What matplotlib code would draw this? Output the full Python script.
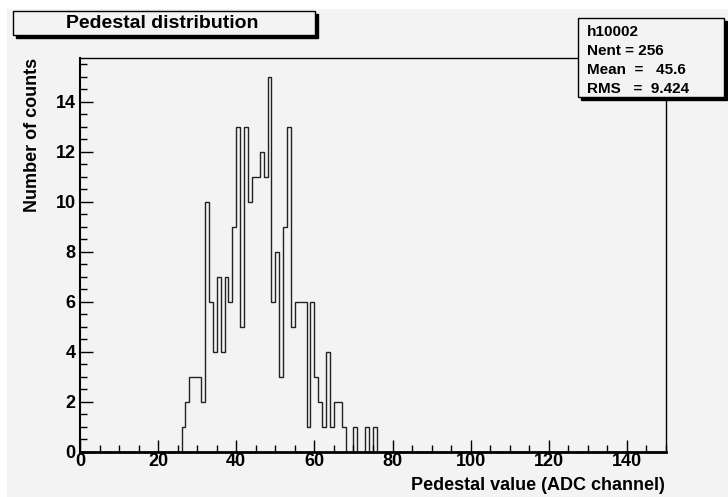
import numpy as np
import matplotlib
matplotlib.use("Agg")
import matplotlib.pyplot as plt
from matplotlib.patches import Rectangle
from matplotlib.ticker import MultipleLocator

# ---- data ----
bin_low, bin_high, n_bins = 0, 150, 150
first_filled_bin = 26
counts_from_26 = [1, 2, 3, 3, 3, 2,            # 26-31
                  10, 6, 4, 7, 4, 7, 6, 9,     # 32-39
                  13, 5, 13, 10, 11, 11, 12, 11,  # 40-47
                  15, 6, 8, 3, 9, 13, 5,       # 48-54
                  6, 6, 6, 1, 6, 3, 2, 1, 4, 1, 2, 2, 1,  # 55-67
                  0, 0, 1, 0, 0, 1, 0, 1]      # 68-75
title = "Pedestal distribution"
xlabel = "Pedestal value (ADC channel)"
ylabel = "Number of counts"
stats_lines = ["h10002", "Nent = 256", "Mean  =   45.6", "RMS   =  9.424"]

counts = np.zeros(n_bins)
counts[first_filled_bin:first_filled_bin + len(counts_from_26)] = counts_from_26
edges = np.linspace(bin_low, bin_high, n_bins + 1)

W, H = 728, 497
BG = "#f3f3f3"
plt.rcParams['font.family'] = ['Liberation Sans', 'DejaVu Sans']
plt.rcParams['font.weight'] = 'bold'

fig = plt.figure(figsize=(W / 100, H / 100), dpi=100)
fig.patch.set_facecolor("white")

def px(x0, y0, x1, y1):
    return (x0 / W, 1 - y1 / H, (x1 - x0) / W, (y1 - y0) / H)

# canvas gray pad
x, y, w, h = px(7, 9, W, H)
fig.patches.append(Rectangle((x, y), w, h, transform=fig.transFigure,
                             facecolor=BG, edgecolor="none", zorder=-10))

ax = fig.add_axes(px(80, 58, 666, 452))
ax.set_facecolor(BG)
ax.stairs(counts, edges, color="#222222", linewidth=1.0)
ax.set_xlim(bin_low, bin_high)
ax.set_ylim(0, 15.75)

ax.xaxis.set_major_locator(MultipleLocator(20))
ax.xaxis.set_minor_locator(MultipleLocator(5))
ax.yaxis.set_major_locator(MultipleLocator(2))
ax.yaxis.set_minor_locator(MultipleLocator(0.5))
ax.tick_params(which='both', direction='in', top=False, right=False, color='black')
ax.tick_params(which='major', length=9, width=1)
ax.tick_params(which='minor', length=5, width=1)
ax.tick_params(axis='x', which='major', labelsize=13, pad=1)
ax.tick_params(axis='y', which='major', labelsize=13, pad=3)
for lab in ax.get_xticklabels() + ax.get_yticklabels():
    lab.set_fontweight('bold')

ax.spines['bottom'].set_linewidth(2.0)
ax.spines['left'].set_linewidth(1.5)
ax.spines['top'].set_linewidth(1.0)
ax.spines['right'].set_linewidth(1.0)
for s in ax.spines.values():
    s.set_color('black')

fig.text(665 / W, 1 - 485 / H, xlabel, ha='right', va='center',
         fontsize=13, fontweight='bold')
fig.text(33 / W, 1 - 58 / H, ylabel, ha='center', va='top', rotation=90,
         fontsize=13, fontweight='bold')

def box_with_shadow(x0, y0, x1, y1, off=3):
    sx, sy, sw, sh = px(x0 + off, y0 + off, x1 + off, y1 + off)
    fig.patches.append(Rectangle((sx, sy), sw, sh, transform=fig.transFigure,
                                 facecolor="black", edgecolor="black", zorder=5))
    bx, by, bw, bh = px(x0, y0, x1, y1)
    fig.patches.append(Rectangle((bx, by), bw, bh, transform=fig.transFigure,
                                 facecolor=BG, edgecolor="black", linewidth=1, zorder=6))

# title box
box_with_shadow(13, 11, 315, 35)
fig.text(162 / W, 1 - 23 / H, title, ha='center', va='center',
         fontsize=14, fontweight='bold', zorder=7)

# stats box
box_with_shadow(578, 18, 724, 97)
for i, line in enumerate(stats_lines):
    fig.text(587 / W, 1 - (32 + i * 19) / H, line, ha='left', va='center',
             fontsize=11, fontweight='bold', zorder=7)

fig.savefig("out.png", dpi=100, facecolor=fig.get_facecolor())
